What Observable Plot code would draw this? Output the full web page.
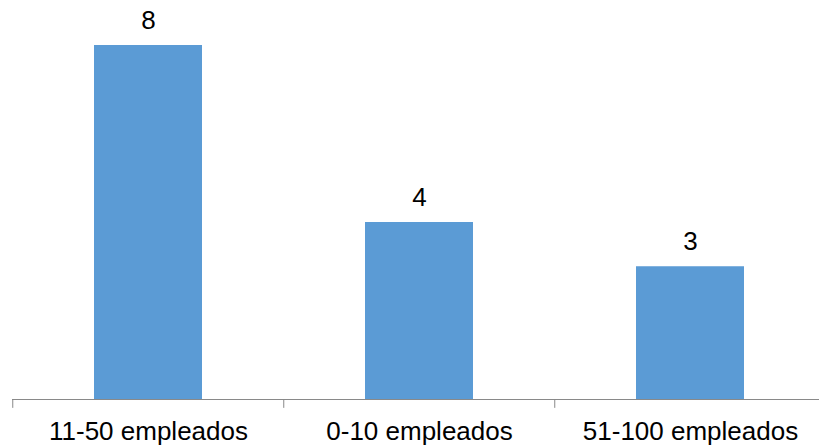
<!DOCTYPE html>
<html>
<head>
<meta charset="utf-8">
<script src="https://cdn.jsdelivr.net/npm/d3@7"></script>
<script src="https://cdn.jsdelivr.net/npm/@observablehq/plot@0.6"></script>
<style>
  html, body { margin: 0; padding: 0; background: #fff; }
  #chart svg { overflow: visible; }
</style>
</head>
<body>
<div id="chart"></div>
<script>
const categories = ["11-50 empleados", "0-10 empleados", "51-100 empleados"];
const values = [8, 4, 3];

const data = categories.map((c, i) => ({category: c, value: values[i]}));

const W = 819, H = 446;
const marginLeft = 12, marginRight = -7.5, marginTop = 45, marginBottom = 47;
const step = (W - marginRight - marginLeft) / categories.length;
const font = "'Liberation Sans', Arial, sans-serif";
const axisColor = "#898989";

const chart = Plot.plot({
  width: W,
  height: H,
  marginLeft, marginRight, marginTop, marginBottom,
  style: {fontFamily: font, background: "#fff", overflow: "visible"},
  x: {domain: categories, paddingInner: 0.6, paddingOuter: 0.3, axis: null, label: null},
  y: {domain: [0, 8], axis: null, label: null},
  marks: [
    Plot.barY(data, {x: "category", y: "value", fill: "#5B9BD5"}),
    Plot.ruleY([0], {stroke: axisColor, strokeWidth: 1}),
    Plot.ruleX(categories, {x: d => d, y1: 0, y2: -0.2, dx: -step / 2, stroke: axisColor}),
    Plot.ruleX(categories.slice(-1), {x: d => d, y1: 0, y2: -0.2, dx: step / 2, stroke: axisColor}),
    Plot.axisX({tickSize: 0, tickPadding: 22, fontSize: 26, fill: "#000", fontFamily: font, label: null}),
    Plot.text(data, {x: "category", y: "value", text: d => String(d.value), lineAnchor: "bottom", dy: -17, fontSize: 26, fill: "#000", fontFamily: font})
  ]
});
document.getElementById("chart").appendChild(chart);
</script>
</body>
</html>
